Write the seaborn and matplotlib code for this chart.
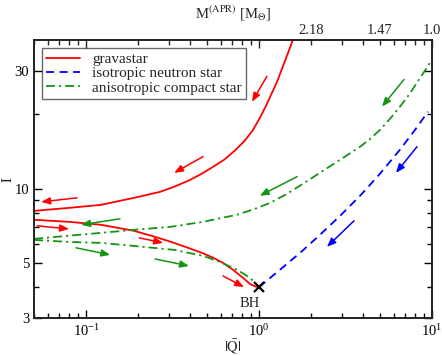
import numpy as np
import pandas as pd
import matplotlib
matplotlib.use("Agg")
import matplotlib.pyplot as plt
import matplotlib.ticker as mticker
import seaborn as sns

# gravastar branches
grav_up_q = [0.05, 0.0797, 0.122, 0.189, 0.268, 0.323, 0.389, 0.456, 0.535, 0.628, 0.727,
             0.830, 0.923, 1.013, 1.098, 1.189, 1.271, 1.358, 1.452, 1.572]
grav_up_i = [8.14, 8.37, 8.61, 9.19, 9.72, 10.19, 10.77, 11.4, 12.2, 13.1, 14.3,
             15.7, 17.3, 19.4, 21.7, 24.5, 27.1, 30.6, 34.6, 40.2]
grav_low_q = [0.05, 0.0797, 0.122, 0.189, 0.251, 0.323, 0.389, 0.475, 0.549, 0.619, 0.708,
              0.808, 0.887, 0.948, 1.0]
grav_low_i = [7.49, 7.35, 7.15, 6.76, 6.39, 6.04, 5.77, 5.48, 5.24, 5.01, 4.70,
              4.36, 4.12, 4.03, 4.0]

# anisotropic compact star branches
aniso_up_q = [0.05, 0.0777, 0.122, 0.189, 0.306, 0.475, 0.746, 0.948, 1.158, 1.452, 1.796,
              2.25, 2.94, 3.84, 4.38, 5.0, 5.72, 6.53, 7.36, 8.19, 9.11, 10.0]
aniso_up_i = [6.27, 6.45, 6.63, 6.82, 7.01, 7.35, 7.85, 8.30, 8.77, 9.54, 10.48,
              11.61, 13.1, 14.8, 15.9, 17.3, 19.2, 21.5, 24.0, 26.9, 30.1, 33.3]
aniso_low_q = [0.05, 0.0777, 0.122, 0.189, 0.323, 0.475, 0.595, 0.746, 0.841, 0.911, 0.961, 1.0]
aniso_low_i = [6.21, 6.10, 6.04, 5.87, 5.66, 5.35, 5.06, 4.70, 4.47, 4.28, 4.12, 4.0]

# isotropic neutron star
iso_q = [1.0, 1.32, 1.726, 2.25, 2.94, 3.84, 5.0, 6.53, 7.97, 9.48]
iso_i = [4.0, 4.70, 5.50, 6.51, 7.77, 9.37, 11.5, 14.4, 17.3, 20.5]

# direction arrows (q_start, i_start, q_end, i_end)
red_arrows = [(1.11, 28.5, 0.911, 22.5), (0.475, 13.5, 0.323, 11.6),
              (0.0887, 9.19, 0.055, 8.85), (0.0521, 7.08, 0.0797, 6.88),
              (0.203, 6.33, 0.279, 6.04), (0.619, 4.44, 0.819, 4.0)]
green_arrows = [(0.157, 7.56, 0.0936, 7.15), (0.0875, 5.77, 0.138, 5.40),
                (0.251, 5.20, 0.394, 4.87), (6.89, 27.7, 5.14, 21.5),
                (1.66, 11.2, 1.01, 9.37)]
blue_arrows = [(8.19, 14.8, 6.19, 11.6), (3.54, 7.42, 2.47, 5.82)]

bh_q, bh_i = 1.0, 4.0

y_major = [3, 5, 10, 30]
y_minor = [4, 6, 7, 8, 9, 20]
top_ticks = [2, 5, 10]
top_labels = ["2.18", "1.47", "1.0"]

GREEN = "#149414"

sns.set_theme(style="ticks")
plt.rcParams["font.family"] = ["Liberation Serif", "DejaVu Serif"]
plt.rcParams["mathtext.fontset"] = "stix"
plt.rcParams["font.size"] = 10.5

fig = plt.figure(figsize=(4.42, 3.56), dpi=100)
ax = fig.add_axes([34 / 442, 1 - 318 / 356, 398 / 442, 278 / 356])

green_dashes = (5, 2.2, 1.2, 2.2)
kw = dict(ax=ax, estimator=None, sort=False, lw=1.3)
sns.lineplot(x=grav_up_q, y=grav_up_i, color="red", label="gravastar", **kw)
sns.lineplot(x=grav_low_q, y=grav_low_i, color="red", **kw)
sns.lineplot(x=iso_q, y=iso_i, color="blue", label="isotropic neutron star", **kw)
sns.lineplot(x=aniso_up_q, y=aniso_up_i, color=GREEN, label="anisotropic compact star", **kw)
sns.lineplot(x=aniso_low_q, y=aniso_low_i, color=GREEN, **kw)
lines = ax.get_lines()
lines[2].set_dashes((4.5, 3))
lines[3].set_dashes(green_dashes)
lines[4].set_dashes(green_dashes)

ax.plot([bh_q], [bh_i], marker="x", color="black", ms=7, mew=1.6, ls="none")
ax.text(0.885, 3.45, "BH", ha="center", va="center", fontsize=10.5)

for arrows, col in [(red_arrows, "red"), (green_arrows, GREEN), (blue_arrows, "blue")]:
    for q0, i0, q1, i1 in arrows:
        ax.annotate("", xy=(q1, i1), xytext=(q0, i0),
                    arrowprops=dict(arrowstyle="-|>,head_length=0.5,head_width=0.2",
                                    color=col, lw=1.1, shrinkA=0, shrinkB=0))

ax.set_xscale("log")
ax.set_yscale("log")
ax.set_xlim(0.05, 10)
ax.set_ylim(3, 40)
ax.yaxis.set_major_locator(mticker.FixedLocator(y_major))
ax.yaxis.set_major_formatter(mticker.FixedFormatter([str(v) for v in y_major]))
ax.yaxis.set_minor_locator(mticker.FixedLocator(y_minor))
ax.yaxis.set_minor_formatter(mticker.NullFormatter())
ax.tick_params(which="both", direction="in", right=True, top=False, colors="black", labelsize=10.5)
ax.tick_params(which="major", length=6, width=1)
ax.tick_params(which="minor", length=3.5, width=1)
ax.set_xlabel(r"$|\bar{\mathrm{Q}}|$", fontsize=10.5)
ax.set_ylabel(r"$\bar{\mathrm{I}}$", fontsize=10.5)
ax.xaxis.set_label_coords(0.5, -0.104)
ax.xaxis.label.set_va("center")
ax.yaxis.set_label_coords(-0.066, 0.5)
ax.yaxis.label.set_va("center")

ax2 = ax.twiny()
ax2.set_xscale("log")
ax2.set_xlim(0.05, 10)
ax2.xaxis.set_major_locator(mticker.FixedLocator([0.1, 1, 10]))
ax2.xaxis.set_major_formatter(mticker.FixedFormatter(["", "", top_labels[2]]))
ax2.xaxis.set_minor_locator(mticker.LogLocator(base=10, subs=np.arange(2, 10), numticks=20))
ax2.xaxis.set_minor_formatter(mticker.FuncFormatter(
    lambda v, p: top_labels[top_ticks.index(int(round(v)))] if round(v) in top_ticks[:2] and abs(v - round(v)) < 1e-6 else ""))
ax2.tick_params(which="both", direction="in", labelsize=10.5, pad=2)
ax2.tick_params(which="major", length=6, width=1)
ax2.tick_params(which="minor", length=3.5, width=1)
ax2.set_xlabel(r"M$^{\mathrm{(APR)}}$ [M$_{\Theta}$]", fontsize=10.5, labelpad=4)

for a in (ax, ax2):
    for s in a.spines.values():
        s.set_color("#222222")
        s.set_linewidth(1.2)

leg = ax.legend(loc="upper left", fontsize=11, frameon=True, fancybox=False,
                handlelength=2.2, borderpad=0.3, labelspacing=0.05,
                borderaxespad=0.5, handletextpad=0.8)
leg.get_frame().set_edgecolor("#444444")
leg.get_frame().set_linewidth(1.0)

fig.savefig("out.png", dpi=100)
